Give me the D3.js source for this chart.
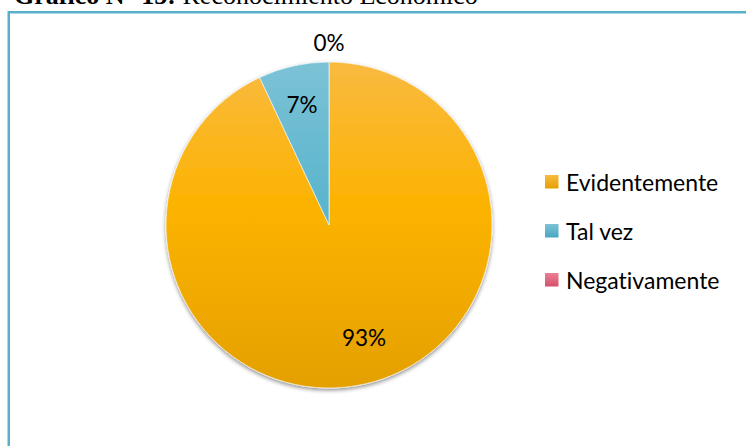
<!DOCTYPE html>
<html>
<head>
<meta charset="utf-8">
<script src="https://cdn.jsdelivr.net/npm/d3@7/dist/d3.min.js"></script>
<style>
  html, body { margin: 0; padding: 0; background: #fff; }
  svg { display: block; }
  text { font-variant-ligatures: none; }
</style>
</head>
<body>
<svg id="chart" width="746" height="446"></svg>
<script>
// Survey answers and their shares (percent)
const categories = ["Evidentemente", "Tal vez", "Negativamente"];
const values = [93, 7, 0];
const baseColors = ["#fcb300", "#5ab5cd", "#e4607a"];
const lightColors = ["#f9ba40", "#7cc2d6", "#ec8094"];
const darkColors = ["#e4a000", "#48a7c1", "#d4506a"];

const svg = d3.select("#chart");
const W = 746, H = 446;

// Heading above the framed chart
const title = svg.append("text")
  .attr("x", 14).attr("y", 3.5)
  .attr("font-family", "'Liberation Serif', 'Times New Roman', serif")
  .attr("font-size", 26)
  .attr("fill", "#000");
title.append("tspan").attr("font-weight", "bold").text("Gráfico N° 15:");
title.append("tspan").text(" Reconocimiento Económico");

// Chart frame
svg.append("rect")
  .attr("x", 8.75).attr("y", 12.25)
  .attr("width", W).attr("height", H)
  .attr("fill", "#fff")
  .attr("stroke", "#5aafcb")
  .attr("stroke-width", 2.5);

const cx = 329, cy = 225, r = 163;

const defs = svg.append("defs");

// Soft shadow under the pie
const shadow = defs.append("filter").attr("id", "pieShadow")
  .attr("x", "-10%").attr("y", "-10%").attr("width", "120%").attr("height", "120%");
shadow.append("feGaussianBlur").attr("in", "SourceAlpha").attr("stdDeviation", 2).attr("result", "blur");
shadow.append("feOffset").attr("in", "blur").attr("dx", 0).attr("dy", 1.5).attr("result", "off");
shadow.append("feComponentTransfer").attr("in", "off").attr("result", "soft")
  .append("feFuncA").attr("type", "linear").attr("slope", 0.45);
const merge = shadow.append("feMerge");
merge.append("feMergeNode").attr("in", "soft");
merge.append("feMergeNode").attr("in", "SourceGraphic");

// Vertical gradient per slice, spanning the whole pie (in the pie group's own coordinates)
categories.forEach((c, i) => {
  const g = defs.append("linearGradient")
    .attr("id", "grad" + i)
    .attr("gradientUnits", "userSpaceOnUse")
    .attr("x1", 0).attr("y1", -r).attr("x2", 0).attr("y2", r);
  g.append("stop").attr("offset", "0%").attr("stop-color", lightColors[i]);
  g.append("stop").attr("offset", "45%").attr("stop-color", baseColors[i]);
  g.append("stop").attr("offset", "100%").attr("stop-color", darkColors[i]);
});

const pie = d3.pie().sort(null).value(d => d.value);
const data = pie(categories.map((c, i) => ({ name: c, value: values[i], idx: i })));
const arc = d3.arc().innerRadius(0).outerRadius(r);
const labelArcIn = d3.arc().innerRadius(r * 0.76).outerRadius(r * 0.76);
const labelArcOut = d3.arc().innerRadius(r + 20).outerRadius(r + 20);

const g = svg.append("g").attr("transform", `translate(${cx},${cy})`);

const slices = g.append("g").attr("filter", "url(#pieShadow)");
slices.selectAll("path")
  .data(data.filter(d => d.value > 0))
  .join("path")
  .attr("d", arc)
  .attr("fill", d => `url(#grad${d.data.idx})`)
  .attr("stroke", "rgba(255,255,255,0.6)")
  .attr("stroke-width", 1);

// Percent labels: inside for visible slices, outside for empty ones
g.selectAll("text.lbl")
  .data(data)
  .join("text")
  .attr("class", "lbl")
  .attr("transform", d => {
    const p = d.value > 0 ? labelArcIn.centroid(d) : labelArcOut.centroid(d);
    return `translate(${p[0] + (d.value > 50 ? 8 : 0)},${p[1] - (d.value > 50 ? 8 : 0)})`;
  })
  .attr("text-anchor", "middle")
  .attr("dominant-baseline", "central")
  .attr("font-family", "Lato, 'Open Sans', sans-serif")
  .attr("font-size", 22.5)
  .attr("fill", "#000")
  .text(d => d.value + "%");

// Legend
const legend = svg.append("g").attr("transform", "translate(545,0)");
const legendY = [182, 231, 280];
categories.forEach((c, i) => {
  const lg = defs.append("linearGradient").attr("id", "legGrad" + i)
    .attr("x1", 0).attr("y1", 0).attr("x2", 0).attr("y2", 1);
  lg.append("stop").attr("offset", "0%").attr("stop-color", lightColors[i]);
  lg.append("stop").attr("offset", "100%").attr("stop-color", darkColors[i]);
});
const items = legend.selectAll("g")
  .data(categories)
  .join("g")
  .attr("transform", (d, i) => `translate(0,${legendY[i]})`);
items.append("rect")
  .attr("x", 0).attr("y", -7)
  .attr("width", 13.5).attr("height", 13.5)
  .attr("fill", (d, i) => `url(#legGrad${i})`);
items.append("text")
  .attr("x", 21).attr("y", 0)
  .attr("dominant-baseline", "central")
  .attr("font-family", "Lato, 'Open Sans', sans-serif")
  .attr("font-size", 23)
  .attr("fill", "#000")
  .text(d => d);
</script>
</body>
</html>
